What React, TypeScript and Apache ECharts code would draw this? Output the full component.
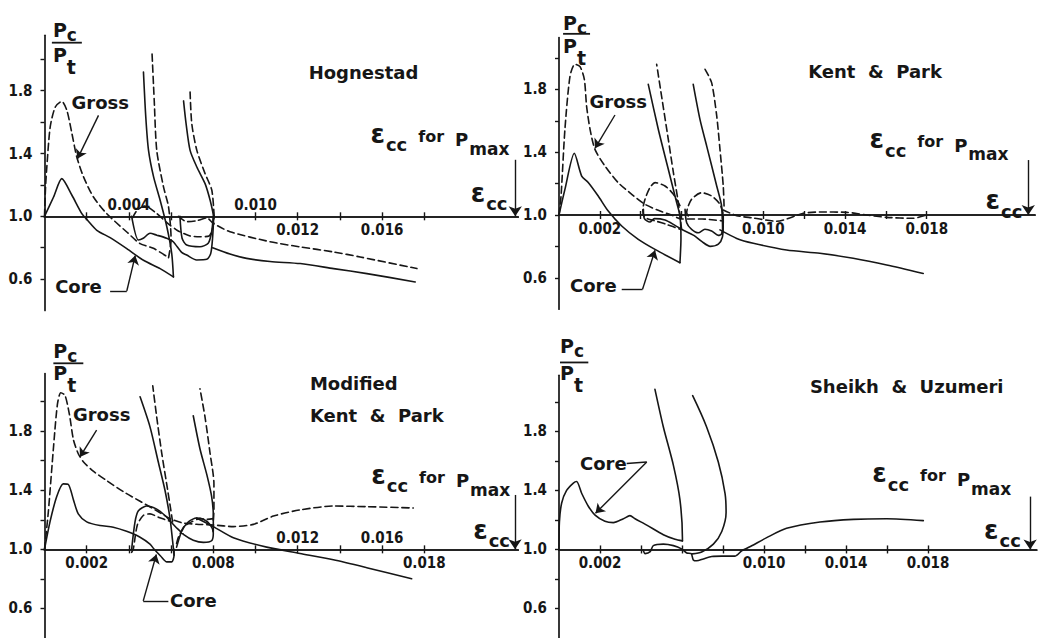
import { useEffect, useRef } from 'react';
import * as echarts from 'echarts';

type P = [number, number];

// ---------- Hognestad (panel 1) ----------
const hogCoreMain: P[] = [[0, 1.0], [0.00043, 1.123], [0.00082, 1.24], [0.0013, 1.134], [0.00177, 1.017], [0.00204, 0.975], [0.00248, 0.911], [0.00311, 0.864], [0.0039, 0.794], [0.00469, 0.72], [0.00548, 0.667], [0.00611, 0.614]];
const hogCoreRise1: P[] = [[0.00611, 0.614], [0.00603, 0.762], [0.0058, 0.932], [0.00548, 1.102], [0.00517, 1.251], [0.00493, 1.42], [0.0048, 1.633], [0.00469, 1.919]];
const hogCoreLoop: P[] = [[0.00413, 1.0], [0.00445, 0.849], [0.00468, 0.86], [0.005, 0.892], [0.00532, 0.88], [0.00579, 0.86], [0.0061, 0.838], [0.0065, 0.77], [0.00674, 0.753], [0.00721, 0.722], [0.00769, 0.726], [0.00788, 0.764], [0.00797, 0.87], [0.00802, 1.0]];
const hogCoreRise2: P[] = [[0.00802, 1.0], [0.00785, 1.102], [0.00761, 1.208], [0.00722, 1.314], [0.0069, 1.42], [0.00671, 1.59], [0.00659, 1.735]];
const hogCoreBox: P[] = [[0.00642, 1.0], [0.00652, 0.86], [0.00674, 0.817], [0.00737, 0.806], [0.00776, 0.828], [0.00792, 0.9], [0.008, 1.0]];
const hogCoreTail: P[] = [[0.00797, 0.8], [0.00879, 0.76], [0.00958, 0.732], [0.01069, 0.712], [0.01212, 0.699], [0.0137, 0.667], [0.01528, 0.635], [0.01757, 0.582]];
const hogGrossMain: P[] = [[0, 1.0], [0.00005, 1.187], [0.00011, 1.314], [0.00027, 1.569], [0.00051, 1.696], [0.00082, 1.732], [0.00106, 1.675], [0.0013, 1.527], [0.00153, 1.378], [0.00185, 1.251], [0.00232, 1.123], [0.00295, 1.017], [0.0039, 0.9], [0.00453, 0.826], [0.00516, 0.796], [0.00588, 0.737]];
const hogGrossRise1: P[] = [[0.00588, 0.737], [0.006, 0.85], [0.00588, 1.059], [0.00564, 1.187], [0.00532, 1.42], [0.0052, 1.739], [0.00509, 2.057]];
const hogGrossLoop: P[] = [[0.00417, 0.99], [0.0044, 1.04], [0.00476, 1.066], [0.0053, 1.02], [0.0058, 0.96], [0.0063, 0.91], [0.0069, 0.875], [0.00737, 0.87], [0.0078, 0.875], [0.00798, 0.93], [0.00804, 1.0]];
const hogGrossRise2: P[] = [[0.00804, 1.0], [0.00793, 1.166], [0.00761, 1.272], [0.00722, 1.42], [0.00698, 1.59], [0.0069, 1.792]];
const hogGrossTail: P[] = [[0.00635, 1.0], [0.00674, 0.966], [0.00722, 0.972], [0.00769, 0.99], [0.008, 0.955], [0.00879, 0.902], [0.01069, 0.838], [0.01212, 0.805], [0.0137, 0.773], [0.01496, 0.741], [0.01765, 0.667]];

// ---------- Kent & Park (panel 2) ----------
const kpCoreMain: P[] = [[0, 1.0], [0.00029, 1.163], [0.00075, 1.393], [0.00111, 1.248], [0.00144, 1.206], [0.00192, 1.121], [0.00241, 1.025], [0.00307, 0.93], [0.00388, 0.845], [0.0047, 0.781], [0.00592, 0.696]];
const kpCoreRise1: P[] = [[0.00592, 0.696], [0.00597, 0.85], [0.00592, 0.994], [0.00576, 1.079], [0.00535, 1.291], [0.00486, 1.546], [0.00437, 1.832]];
const kpCoreCurl: P[] = [[0.00413, 1.036], [0.00418, 0.977], [0.00445, 0.955], [0.00467, 0.977], [0.00519, 0.968], [0.00568, 0.934], [0.006, 0.909], [0.0066, 0.87], [0.007, 0.83], [0.0074, 0.8], [0.0078, 0.815], [0.008, 0.86], [0.00804, 0.95]];
const kpCoreLoop: P[] = [[0.00617, 1.036], [0.00625, 0.951], [0.00649, 0.909], [0.00682, 0.887], [0.00714, 0.909], [0.00747, 0.898], [0.0078, 0.87], [0.00796, 0.88], [0.00804, 0.951], [0.00804, 0.994]];
const kpCoreRise2: P[] = [[0.00801, 0.887], [0.00796, 1.057], [0.00772, 1.185], [0.00723, 1.439], [0.0069, 1.609], [0.00657, 1.832]];
const kpCoreTail: P[] = [[0.00788, 0.905], [0.0087, 0.851], [0.00951, 0.82], [0.01114, 0.777], [0.01277, 0.756], [0.0144, 0.724], [0.01604, 0.682], [0.01783, 0.628]];
const kpGrossMain: P[] = [[0, 1.0], [0.0001, 1.121], [0.00029, 1.546], [0.00054, 1.885], [0.00078, 1.96], [0.00103, 1.945], [0.00124, 1.864], [0.00135, 1.694], [0.00152, 1.546], [0.00176, 1.418], [0.00225, 1.312], [0.0029, 1.206], [0.00356, 1.132], [0.00421, 1.068], [0.00486, 1.03], [0.0055, 1.0], [0.006, 0.975], [0.007, 0.975], [0.0076, 0.968], [0.00804, 0.962]];
const kpGrossRise1: P[] = [[0.006, 0.909], [0.00584, 1.079], [0.0056, 1.27], [0.00535, 1.482], [0.00502, 1.758], [0.00478, 1.96]];
const kpGrossLoop1: P[] = [[0.00592, 1.06], [0.0056, 1.132], [0.00519, 1.185], [0.0047, 1.206], [0.00445, 1.174], [0.00421, 1.1], [0.0041, 1.03], [0.0042, 0.985], [0.00478, 0.96], [0.00527, 0.94], [0.00592, 0.91]];
const kpGrossLoop2: P[] = [[0.00633, 0.994], [0.00625, 1.015], [0.00649, 1.1], [0.00698, 1.142], [0.00747, 1.121], [0.00788, 1.068], [0.00804, 1.004]];
const kpGrossRise2: P[] = [[0.00808, 1.057], [0.00804, 1.185], [0.00788, 1.418], [0.00772, 1.631], [0.00747, 1.843], [0.00715, 1.928]];
const kpGrossTail: P[] = [[0.00804, 1.032], [0.0087, 0.996], [0.00951, 0.981], [0.01065, 0.96], [0.01196, 1.011], [0.01277, 1.019], [0.01408, 1.017], [0.01506, 1.0], [0.01604, 0.985], [0.01734, 0.979], [0.01799, 1.0]];

// ---------- Modified Kent & Park (panel 3) ----------
const mkpCoreMain: P[] = [[0, 1.0], [0.00026, 1.186], [0.00058, 1.358], [0.00089, 1.443], [0.00113, 1.439], [0.00137, 1.336], [0.0016, 1.24], [0.002, 1.186], [0.00263, 1.161], [0.00326, 1.15], [0.00389, 1.122], [0.00453, 1.082], [0.005, 1.035], [0.0052, 1.0], [0.0055, 0.955], [0.0058, 0.915], [0.00603, 0.915], [0.00614, 0.96], [0.00614, 1.0]];
const mkpCoreRise1: P[] = [[0.00614, 0.96], [0.00607, 1.058], [0.00595, 1.208], [0.00571, 1.4], [0.00539, 1.593], [0.005, 1.829], [0.00453, 2.032]];
const mkpCoreLoop: P[] = [[0.00413, 1.0], [0.00429, 1.186], [0.00445, 1.261], [0.00484, 1.293], [0.00532, 1.272], [0.00571, 1.229], [0.00599, 1.186], [0.0063, 1.14], [0.0066, 1.1], [0.00705, 1.062], [0.00753, 1.047], [0.00792, 1.058], [0.008, 1.111], [0.00784, 1.169], [0.00753, 1.203], [0.00721, 1.212], [0.00682, 1.186], [0.0065, 1.122], [0.00626, 1.015]];
const mkpCoreRise2: P[] = [[0.008, 1.12], [0.008, 1.229], [0.00792, 1.358], [0.00769, 1.507], [0.00737, 1.679], [0.00705, 1.904]];
const mkpCoreTail: P[] = [[0.0072, 1.212], [0.008, 1.154], [0.00895, 1.079], [0.01053, 1.015], [0.01211, 0.972], [0.01369, 0.929], [0.01527, 0.876], [0.0174, 0.801]];
const mkpGrossMain: P[] = [[0, 1.0], [0.00018, 1.251], [0.00042, 1.679], [0.00061, 1.979], [0.00077, 2.06], [0.00097, 2.043], [0.00118, 1.914], [0.00137, 1.743], [0.0016, 1.647], [0.00184, 1.593], [0.00231, 1.529], [0.00295, 1.465], [0.00374, 1.39], [0.00453, 1.325], [0.00532, 1.261], [0.00595, 1.208], [0.0065, 1.18], [0.0072, 1.17], [0.008, 1.165], [0.00895, 1.154], [0.0099, 1.169], [0.01085, 1.225], [0.01211, 1.267], [0.01369, 1.293], [0.01527, 1.289], [0.01748, 1.28]];
const mkpGrossRise1: P[] = [[0.00607, 1.186], [0.00598, 1.272], [0.00579, 1.443], [0.00555, 1.657], [0.00532, 1.893], [0.00513, 2.107]];
const mkpGrossLoop1: P[] = [[0.00413, 0.98], [0.00421, 1.004], [0.0044, 1.165], [0.00468, 1.229], [0.005, 1.24], [0.00539, 1.218], [0.00595, 1.19]];
const mkpGrossLoop2: P[] = [[0.00626, 1.04], [0.00634, 1.079], [0.00661, 1.154], [0.00697, 1.186], [0.00737, 1.208], [0.00769, 1.203], [0.008, 1.208]];
const mkpGrossRise2: P[] = [[0.008, 1.197], [0.00803, 1.272], [0.00803, 1.443], [0.00784, 1.657], [0.00761, 1.893], [0.00737, 2.086]];

// ---------- Sheikh & Uzumeri (panel 4) ----------
const suCoreMain: P[] = [[0, 1.0], [0.00002, 1.186], [0.00013, 1.315], [0.00037, 1.4], [0.0007, 1.45], [0.00086, 1.46], [0.00111, 1.379], [0.00143, 1.293], [0.00176, 1.233], [0.00224, 1.191], [0.00265, 1.182], [0.00314, 1.208], [0.00346, 1.229], [0.00371, 1.208], [0.00428, 1.165], [0.00509, 1.1], [0.00566, 1.069], [0.00602, 1.058]];
const suCoreRise1: P[] = [[0.00602, 1.058], [0.00602, 1.079], [0.0059, 1.336], [0.00558, 1.57], [0.00509, 1.83], [0.00468, 2.085]];
const suCoreRise2: P[] = [[0.0065, 0.97], [0.00696, 0.983], [0.00753, 1.036], [0.00794, 1.122], [0.00815, 1.25], [0.0081, 1.379], [0.00777, 1.593], [0.0072, 1.83], [0.00652, 2.042]];
const suCoreTail: P[] = [[0.00411, 0.995], [0.0042, 0.972], [0.00445, 0.985], [0.0046, 1.026], [0.00509, 1.036], [0.00558, 1.026], [0.00598, 1.004], [0.00623, 0.976], [0.00645, 0.972], [0.00655, 0.929], [0.00672, 0.923], [0.00704, 0.936], [0.00745, 0.952], [0.00793, 0.955], [0.00859, 0.955], [0.00891, 0.99], [0.0094, 1.025], [0.01013, 1.08], [0.0111, 1.143], [0.01273, 1.186], [0.01436, 1.204], [0.01599, 1.208], [0.01777, 1.195]];

// ---------- ticks & labels ----------
const yTickValues = [0.6, 0.8, 1.0, 1.2, 1.4, 1.6, 1.8, 2.0];
const yLabelValues = [0.6, 1.0, 1.4, 1.8];
const xTickValues = [0.002, 0.004, 0.006, 0.008, 0.01, 0.012, 0.014, 0.016, 0.018];
const xLabelsAbove: number[][] = [[0.004, 0.01], [], [0.012, 0.016], []];
const xLabelsBelow: number[][] = [[0.012, 0.016], [0.002, 0.01, 0.014, 0.018], [0.002, 0.008, 0.018], [0.002, 0.01, 0.014, 0.018]];

const titles = ['Hognestad', 'Kent  &  Park', 'Modified\nKent  &  Park', 'Sheikh  &  Uzumeri'];

const coreCurves: P[][][] = [
  [hogCoreMain, hogCoreRise1, hogCoreLoop, hogCoreRise2, hogCoreBox, hogCoreTail],
  [kpCoreMain, kpCoreRise1, kpCoreCurl, kpCoreLoop, kpCoreRise2, kpCoreTail],
  [mkpCoreMain, mkpCoreRise1, mkpCoreLoop, mkpCoreRise2, mkpCoreTail],
  [suCoreMain, suCoreRise1, suCoreRise2, suCoreTail],
];
const grossCurves: P[][][] = [
  [hogGrossMain, hogGrossRise1, hogGrossLoop, hogGrossRise2, hogGrossTail],
  [kpGrossMain, kpGrossRise1, kpGrossLoop1, kpGrossLoop2, kpGrossRise2, kpGrossTail],
  [mkpGrossMain, mkpGrossRise1, mkpGrossLoop1, mkpGrossLoop2, mkpGrossRise2],
  [],
];

// ---------- layout (pixels) and annotation anchors (data space) ----------
const layouts = [
  { left: 44.5, top: 35.3, width: 473.7, height: 275.2, xMax: 0.02245, yMax: 2.153 },
  { left: 559, top: 37.6, width: 476, height: 271.6, xMax: 0.0233, yMax: 2.13 },
  { left: 44.5, top: 373.5, width: 473.7, height: 279, xMax: 0.02245, yMax: 2.19 },
  { left: 559, top: 375.3, width: 477.7, height: 277.3, xMax: 0.0233, yMax: 2.18 },
];
const titleAt: P[] = [[0.01512, 1.919], [0.01547, 1.913], [0.01258, 2.0145], [0.01696, 2.107]];
const titleAlign = ['center', 'center', 'left', 'center'];
const grossAt: (P | null)[] = [[0.00264, 1.722], [0.0029, 1.722], [0.00271, 1.913], null];
const coreAt: P[] = [[0.00161, 0.55], [0.00168, 0.548], [0.00705, 0.651], [0.00216, 1.582]];
// baseline of the large epsilon, centre of the whole phrase
const epsForAt: P[] = [[0.01874, 1.469], [0.0186, 1.425], [0.01878, 1.443], [0.01867, 1.454]];
const epsAt: P[] = [[0.02107, 1.09], [0.02178, 1.036], [0.02119, 1.072], [0.02163, 1.071]];
const epsArrowTop: P[] = [[0.02231, 1.36], [0.02297, 1.35], [0.0223, 1.368], [0.02298, 1.358]];
// fraction P_c / P_t : left edge & baseline of each P, and the bar
const fracTop: P[] = [[0.0004, 2.142], [0.0002, 2.178], [0.00042, 2.298], [0.00005, 2.331]];
const fracBottom: P[] = [[0.0004, 1.983], [0.0002, 2.032], [0.00042, 2.148], [0.00005, 2.15]];
const fracBar: [number, number, number][] = [[0.00035, 0.00177, 2.106], [0.0002, 0.00152, 2.154], [0.00042, 0.00184, 2.259], [0.00005, 0.00143, 2.267]];
const longTickX = -0.00038;
// leader lines: [from, to, arrowhead]
const leaders: [P, P, boolean][][] = [
  [[[0.00256, 1.643], [0.00156, 1.366], true], [[0.00311, 0.524], [0.0039, 0.524], false], [[0.0039, 0.524], [0.0043, 0.75], true]],
  [[[0.00274, 1.637], [0.00176, 1.425], true], [[0.00307, 0.527], [0.00409, 0.527], false], [[0.00409, 0.527], [0.0047, 0.775], true]],
  [[[0.00247, 1.806], [0.00168, 1.625], true], [[0.00587, 0.651], [0.00468, 0.651], false], [[0.00468, 0.651], [0.0053, 0.965], true]],
  [[[0.0033, 1.582], [0.00428, 1.593], false], [[0.00428, 1.593], [0.00178, 1.245], true]],
];

const INK = '#161616';
const F = '"DejaVu Sans", "Liberation Sans", sans-serif';
const FC = '"DejaVu Sans Condensed", "DejaVu Sans", sans-serif';

type Piece = { t: string; size: number; dy: number; gap: number };
const epsForPieces: Piece[] = [
  { t: 'ε', size: 26, dy: 0, gap: 0 },
  { t: 'cc', size: 18, dy: 8, gap: 1 },
  { t: 'for', size: 16, dy: -1, gap: 11 },
  { t: 'P', size: 18, dy: 3, gap: 11 },
  { t: 'max', size: 17, dy: 12, gap: 1 },
];
const epsPieces: Piece[] = [
  { t: 'ε', size: 26, dy: 0, gap: 0 },
  { t: 'cc', size: 18, dy: 8, gap: 1 },
];
const pcPieces: Piece[] = [
  { t: 'P', size: 19, dy: 0, gap: 0 },
  { t: 'c', size: 17, dy: 4, gap: 0 },
];
const ptPieces: Piece[] = [
  { t: 'P', size: 19, dy: 0, gap: 0 },
  { t: 't', size: 19, dy: 12, gap: 0 },
];

function curve(data: P[], g: number, dashed: boolean, extra: any = {}) {
  return {
    type: 'line',
    xAxisIndex: 2 * g,
    yAxisIndex: g,
    data: data.map(([x, y]) => [x, y - 1]),
    symbol: 'none',
    smooth: 0.25,
    clip: false,
    silent: true,
    lineStyle: { color: INK, width: 1.6, type: dashed ? [7, 4] : 'solid', cap: 'round', join: 'round' },
    z: 3,
    ...extra,
  };
}

function buildOption() {
  const grid: any[] = [];
  const xAxis: any[] = [];
  const yAxis: any[] = [];
  const series: any[] = [];
  layouts.forEach((L, g) => {
    grid.push({ left: L.left, top: L.top, width: L.width, height: L.height, containLabel: false });
    const xBase = {
      type: 'value',
      gridIndex: g,
      min: 0,
      max: L.xMax,
      axisLine: { show: true, onZero: true, onZeroAxisIndex: g, lineStyle: { color: INK, width: 1.7 } },
      axisTick: { show: true, length: 4, inside: false, customValues: xTickValues, lineStyle: { color: INK, width: 1.4 } },
      axisLabel: { show: false },
      splitLine: { show: false },
    };
    xAxis.push({ ...xBase, position: 'bottom' });
    xAxis.push({ ...xBase, position: 'top' });
    yAxis.push({
      type: 'value',
      gridIndex: g,
      min: -0.6,
      max: L.yMax - 1,
      axisLine: { show: true, onZero: true, lineStyle: { color: INK, width: 1.7 } },
      axisTick: { show: true, length: 4, inside: false, customValues: yTickValues.map((v) => v - 1), lineStyle: { color: INK, width: 1.4 } },
      axisLabel: {
        show: true,
        customValues: yLabelValues.map((v) => v - 1),
        formatter: (v: number) => (v + 1).toFixed(1),
        margin: 12,
        color: INK,
        fontFamily: FC,
        fontWeight: 'bold',
        fontSize: 15,
      },
      splitLine: { show: false },
    });

    const arrowX = epsArrowTop[g][0];
    const markData: any[] = [
      [
        { coord: [arrowX, epsArrowTop[g][1] - 1], symbol: 'none' },
        { coord: [arrowX, 0], symbol: 'arrow', symbolSize: 10 },
      ],
      ...leaders[g].map(([a, b, head]) => [
        { coord: [a[0], a[1] - 1], symbol: 'none' },
        { coord: [b[0], b[1] - 1], symbol: head ? 'arrow' : 'none', symbolSize: 9 },
      ]),
      ...yLabelValues.map((v) => [
        { coord: [longTickX, v - 1], symbol: 'none' },
        { coord: [0, v - 1], symbol: 'none' },
      ]),
    ];

    coreCurves[g].forEach((c, i) => {
      const extra =
        i === 0
          ? {
              markLine: {
                silent: true,
                animation: false,
                symbol: ['none', 'none'],
                label: { show: false },
                emphasis: { disabled: true },
                lineStyle: { color: INK, width: 1.4, type: 'solid' },
                data: markData,
              },
            }
          : {};
      series.push(curve(c, g, false, extra));
    });
    grossCurves[g].forEach((c) => series.push(curve(c, g, true)));
  });

  return {
    animation: false,
    backgroundColor: '#ffffff',
    textStyle: { fontFamily: F },
    grid,
    xAxis,
    yAxis,
    series,
  };
}

export default function App() {
  const ref = useRef<HTMLDivElement>(null);
  useEffect(() => {
    if (!ref.current) return;
    const chart = echarts.init(ref.current, undefined, { renderer: 'svg' });
    chart.setOption(buildOption() as any);

    const toPx = (g: number, x: number, y: number) =>
      chart.convertToPixel({ xAxisIndex: 2 * g, yAxisIndex: g } as any, [x, y - 1]) as unknown as number[];

    const canvas = document.createElement('canvas');
    const ctx = canvas.getContext('2d');
    const measure = (t: string, size: number) => {
      if (!ctx) return t.length * size * 0.6;
      ctx.font = `bold ${size}px "DejaVu Sans"`;
      return ctx.measureText(t).width;
    };

    const elements: any[] = [];
    const addText = (g: number, at: P, text: string, align = 'center') => {
      const [px, py] = toPx(g, at[0], at[1]);
      elements.push({
        type: 'text',
        x: px,
        y: py,
        silent: true,
        style: {
          text,
          fill: INK,
          fontSize: 18,
          fontWeight: 'bold',
          fontFamily: F,
          align,
          verticalAlign: 'middle',
          textAlign: align,
          textVerticalAlign: 'middle',
          lineHeight: 32,
        },
      });
    };
    const addTickLabel = (g: number, v: number, above: boolean) => {
      const [px, py] = toPx(g, v, 1.0);
      elements.push({
        type: 'text',
        x: px,
        y: above ? py - 4 : py + 6,
        silent: true,
        style: {
          text: v.toFixed(3),
          fill: INK,
          fontSize: 15,
          fontWeight: 'bold',
          fontFamily: FC,
          align: 'center',
          verticalAlign: above ? 'bottom' : 'top',
          textAlign: 'center',
          textVerticalAlign: above ? 'bottom' : 'top',
        },
      });
    };
    // pieces placed side by side; anchor y is the baseline of the first piece
    const addComposite = (g: number, at: P, pieces: Piece[], align: 'left' | 'center') => {
      const [ax, ay] = toPx(g, at[0], at[1]);
      const widths = pieces.map((p) => measure(p.t, p.size));
      const total = widths.reduce((s, w, i) => s + w + pieces[i].gap, 0);
      let x = align === 'center' ? ax - total / 2 : ax;
      pieces.forEach((p, i) => {
        x += p.gap;
        elements.push({
          type: 'text',
          x,
          y: ay + p.dy - 0.346 * p.size,
          silent: true,
          style: {
            text: p.t,
            fill: INK,
            fontSize: p.size,
            fontWeight: 'bold',
            fontFamily: F,
            align: 'left',
            verticalAlign: 'middle',
            textAlign: 'left',
            textVerticalAlign: 'middle',
          },
        });
        x += widths[i];
      });
    };

    layouts.forEach((_, g) => {
      addText(g, titleAt[g], titles[g], titleAlign[g]);
      const ga = grossAt[g];
      if (ga) addText(g, ga, 'Gross');
      addText(g, coreAt[g], 'Core');
      addComposite(g, epsForAt[g], epsForPieces, 'center');
      addComposite(g, epsAt[g], epsPieces, 'center');
      addComposite(g, fracTop[g], pcPieces, 'left');
      addComposite(g, fracBottom[g], ptPieces, 'left');
      xLabelsAbove[g].forEach((v) => addTickLabel(g, v, true));
      xLabelsBelow[g].forEach((v) => addTickLabel(g, v, false));
      const [x1, x2, yb] = fracBar[g];
      const a = toPx(g, x1, yb);
      const b = toPx(g, x2, yb);
      elements.push({
        type: 'line',
        silent: true,
        shape: { x1: a[0], y1: a[1], x2: b[0], y2: b[1] },
        style: { stroke: INK, lineWidth: 1.8 },
      });
    });

    chart.setOption({ graphic: { elements } } as any);
    return () => chart.dispose();
  }, []);

  return (
    <div
      ref={ref}
      style={{ position: 'absolute', left: 0, top: 0, width: 1039, height: 638, background: '#fff' }}
    />
  );
}
